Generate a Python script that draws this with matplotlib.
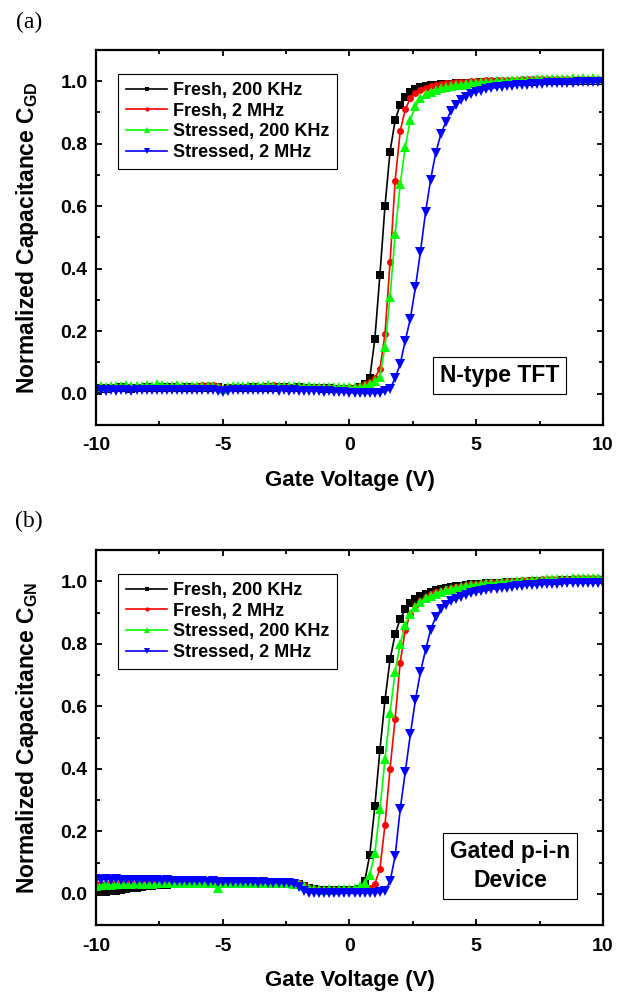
import numpy as np
import matplotlib
matplotlib.use('agg')
import matplotlib.pyplot as plt
from matplotlib.ticker import MultipleLocator

plt.rcParams['font.family'] = 'Liberation Sans'
plt.rcParams['font.weight'] = 'bold'
plt.rcParams['axes.unicode_minus'] = False
plt.rcParams['mathtext.fontset'] = 'custom'
plt.rcParams['mathtext.rm'] = 'Liberation Sans:bold'
plt.rcParams['mathtext.bf'] = 'Liberation Sans:bold'

# gate voltage sweep, -10 V .. 10 V in 0.2 V steps (101 points)
gate_v = np.linspace(-10, 10, 101)

# ---------------- (a) N-type TFT ----------------
a_fresh_200k = [
    0.015, 0.018, 0.016, 0.019, 0.017, 0.02, 0.018, 0.016, 0.019, 0.018,
    0.02, 0.017, 0.019, 0.021, 0.018, 0.02, 0.019, 0.017, 0.02, 0.019,
    0.018, 0.02, 0.019, 0.021, 0.02, 0.012, 0.018, 0.019, 0.017, 0.019,
    0.018, 0.02, 0.019, 0.018, 0.02, 0.019, 0.021, 0.02, 0.018, 0.019,
    0.02, 0.018, 0.019, 0.017, 0.018, 0.016, 0.017, 0.015, 0.014, 0.015,
    0.015, 0.016, 0.02, 0.03, 0.05, 0.175, 0.38, 0.60, 0.775, 0.875,
    0.925, 0.95, 0.965, 0.974, 0.98, 0.984, 0.987, 0.989, 0.99, 0.991,
    0.992, 0.993, 0.993, 0.994, 0.995, 0.995, 0.996, 0.996, 0.997, 0.997,
    0.997, 0.998, 0.998, 0.998, 0.999, 0.999, 0.999, 1.0, 1.0, 1.0,
    1.0, 1.0, 1.001, 1.0, 1.001, 1.0, 1.001, 1.0, 1.001, 1.0,
    1.0]
a_fresh_2m = [
    0.018, 0.02, 0.019, 0.021, 0.02, 0.022, 0.02, 0.021, 0.023, 0.022,
    0.021, 0.02, 0.022, 0.021, 0.02, 0.022, 0.023, 0.021, 0.022, 0.024,
    0.026, 0.027, 0.028, 0.027, 0.024, 0.014, 0.02, 0.021, 0.022, 0.021,
    0.022, 0.023, 0.022, 0.024, 0.026, 0.027, 0.026, 0.024, 0.022, 0.021,
    0.022, 0.021, 0.02, 0.021, 0.02, 0.019, 0.02, 0.019, 0.018, 0.019,
    0.02, 0.02, 0.024, 0.03, 0.038, 0.05, 0.08, 0.19, 0.42, 0.68,
    0.84, 0.91, 0.945, 0.962, 0.972, 0.979, 0.984, 0.988, 0.991, 0.993,
    0.995, 0.997, 0.998, 0.999, 1.0, 1.001, 1.002, 1.003, 1.003, 1.004,
    1.004, 1.005, 1.005, 1.005, 1.006, 1.006, 1.006, 1.006, 1.007, 1.007,
    1.007, 1.006, 1.007, 1.007, 1.006, 1.007, 1.006, 1.007, 1.006, 1.006,
    1.005]
a_stress_200k = [
    0.022, 0.025, 0.023, 0.026, 0.024, 0.025, 0.027, 0.024, 0.026, 0.025,
    0.027, 0.025, 0.03, 0.028, 0.026, 0.025, 0.027, 0.026, 0.025, 0.026,
    0.025, 0.026, 0.024, 0.025, 0.023, 0.016, 0.022, 0.024, 0.025, 0.026,
    0.025, 0.024, 0.026, 0.025, 0.027, 0.026, 0.025, 0.024, 0.025, 0.024,
    0.024, 0.023, 0.024, 0.022, 0.023, 0.022, 0.023, 0.021, 0.022, 0.021,
    0.02, 0.02, 0.021, 0.024, 0.03, 0.04, 0.055, 0.15, 0.31, 0.51,
    0.67, 0.79, 0.877, 0.92, 0.945, 0.958, 0.966, 0.972, 0.977, 0.981,
    0.984, 0.987, 0.989, 0.991, 0.993, 0.995, 0.997, 0.998, 0.999, 1.0,
    1.001, 1.002, 1.003, 1.003, 1.004, 1.005, 1.005, 1.006, 1.006, 1.007,
    1.007, 1.008, 1.007, 1.008, 1.009, 1.008, 1.009, 1.008, 1.009, 1.008,
    1.008]
a_stress_2m = [
    0.01, 0.012, 0.009, 0.011, 0.01, 0.012, 0.011, 0.01, 0.012, 0.011,
    0.012, 0.011, 0.013, 0.012, 0.011, 0.012, 0.013, 0.012, 0.011, 0.012,
    0.012, 0.013, 0.012, 0.011, 0.01, 0.005, 0.009, 0.011, 0.012, 0.011,
    0.012, 0.011, 0.012, 0.011, 0.012, 0.011, 0.01, 0.011, 0.01, 0.011,
    0.01, 0.009, 0.01, 0.008, 0.009, 0.007, 0.008, 0.006, 0.005, 0.004,
    0.003, 0.002, 0.002, 0.001, 0.001, 0.002, 0.003, 0.008, 0.015, 0.05,
    0.095, 0.17, 0.24, 0.34, 0.455, 0.58, 0.685, 0.77, 0.83, 0.87,
    0.905, 0.925, 0.94, 0.951, 0.959, 0.965, 0.97, 0.974, 0.977, 0.98,
    0.982, 0.984, 0.985, 0.987, 0.988, 0.989, 0.99, 0.991, 0.992, 0.993,
    0.993, 0.994, 0.994, 0.995, 0.995, 0.996, 0.996, 0.996, 0.997, 0.997,
    0.997]

# ---------------- (b) Gated p-i-n device ----------------
b_fresh_200k = [
    0.005, 0.006, 0.007, 0.008, 0.01, 0.012, 0.015, 0.018, 0.02, 0.022,
    0.024, 0.026, 0.027, 0.028, 0.029, 0.03, 0.03, 0.031, 0.03, 0.031,
    0.032, 0.031, 0.032, 0.033, 0.032, 0.033, 0.032, 0.033, 0.034, 0.033,
    0.033, 0.034, 0.033, 0.034, 0.035, 0.034, 0.033, 0.034, 0.033, 0.032,
    0.03, 0.025, 0.018, 0.014, 0.013, 0.012, 0.012, 0.013, 0.012, 0.012,
    0.012, 0.013, 0.016, 0.04, 0.125, 0.28, 0.46, 0.62, 0.75, 0.83,
    0.88, 0.91, 0.93, 0.943, 0.953, 0.96, 0.966, 0.971, 0.975, 0.979,
    0.982, 0.984, 0.986, 0.988, 0.99, 0.991, 0.992, 0.993, 0.994, 0.995,
    0.996, 0.997, 0.997, 0.998, 0.999, 0.999, 1.0, 1.0, 1.001, 1.001,
    1.002, 1.002, 1.003, 1.003, 1.004, 1.004, 1.004, 1.005, 1.005, 1.005,
    1.005]
b_fresh_2m = [
    0.03, 0.032, 0.031, 0.033, 0.032, 0.034, 0.033, 0.035, 0.034, 0.036,
    0.035, 0.036, 0.037, 0.036, 0.037, 0.038, 0.037, 0.038, 0.037, 0.039,
    0.038, 0.039, 0.04, 0.039, 0.041, 0.042, 0.04, 0.039, 0.04, 0.039,
    0.038, 0.039, 0.038, 0.039, 0.04, 0.041, 0.04, 0.042, 0.041, 0.038,
    0.035, 0.028, 0.02, 0.015, 0.013, 0.012, 0.012, 0.011, 0.012, 0.011,
    0.012, 0.012, 0.013, 0.015, 0.02, 0.032, 0.08, 0.22, 0.40, 0.56,
    0.74, 0.845, 0.895, 0.92, 0.937, 0.95, 0.958, 0.965, 0.97, 0.975,
    0.979, 0.982, 0.985, 0.988, 0.99, 0.992, 0.994, 0.995, 0.997, 0.998,
    0.999, 1.0, 1.001, 1.002, 1.003, 1.004, 1.004, 1.005, 1.006, 1.006,
    1.007, 1.007, 1.008, 1.008, 1.009, 1.009, 1.009, 1.01, 1.01, 1.01,
    1.01]
b_stress_200k = [
    0.025, 0.028, 0.03, 0.029, 0.031, 0.03, 0.032, 0.031, 0.033, 0.032,
    0.033, 0.032, 0.034, 0.033, 0.035, 0.034, 0.033, 0.035, 0.034, 0.035,
    0.034, 0.035, 0.036, 0.035, 0.02, 0.033, 0.036, 0.035, 0.034, 0.035,
    0.034, 0.035, 0.034, 0.036, 0.035, 0.034, 0.035, 0.034, 0.033, 0.032,
    0.03, 0.024, 0.018, 0.015, 0.014, 0.013, 0.014, 0.013, 0.014, 0.014,
    0.015, 0.018, 0.024, 0.034, 0.06, 0.13, 0.27, 0.43, 0.58, 0.71,
    0.80, 0.86, 0.895, 0.918, 0.933, 0.945, 0.953, 0.96, 0.966, 0.971,
    0.975, 0.979, 0.982, 0.985, 0.987, 0.989, 0.991, 0.993, 0.994, 0.996,
    0.997, 0.998, 0.999, 1.0, 1.001, 1.002, 1.003, 1.004, 1.005, 1.006,
    1.006, 1.007, 1.008, 1.008, 1.009, 1.009, 1.01, 1.01, 1.011, 1.011,
    1.011]
b_stress_2m = [
    0.046, 0.045, 0.047, 0.045, 0.046, 0.044, 0.045, 0.044, 0.045, 0.043,
    0.044, 0.043, 0.044, 0.042, 0.043, 0.042, 0.041, 0.042, 0.04, 0.041,
    0.04, 0.041, 0.039, 0.04, 0.038, 0.039, 0.038, 0.039, 0.037, 0.038,
    0.037, 0.038, 0.036, 0.037, 0.036, 0.035, 0.036, 0.035, 0.034, 0.03,
    0.022, 0.01, 0.004, 0.002, 0.001, 0.002, 0.001, 0.002, 0.001, 0.002,
    0.002, 0.001, 0.002, 0.002, 0.003, 0.003, 0.005, 0.01, 0.04, 0.12,
    0.27, 0.39, 0.51, 0.62, 0.71, 0.78, 0.845, 0.885, 0.91, 0.925,
    0.936, 0.944, 0.951, 0.956, 0.961, 0.965, 0.968, 0.971, 0.974, 0.976,
    0.978, 0.98, 0.982, 0.984, 0.985, 0.987, 0.988, 0.989, 0.99, 0.991,
    0.992, 0.992, 0.993, 0.994, 0.994, 0.995, 0.995, 0.996, 0.996, 0.996,
    0.996]

labels = ["Fresh, 200 KHz", "Fresh, 2 MHz", "Stressed, 200 KHz", "Stressed, 2 MHz"]
colors = ["#000000", "#ff0000", "#00ff00", "#0000ff"]
markers = ["s", "o", "^", "v"]
msizes = [5.5, 5.0, 6.5, 7.0]


def panel(ax, series, ysub, note, note_xy):
    for y, lab, c, m, ms in zip(series, labels, colors, markers, msizes):
        ax.plot(gate_v, y, color=c, marker=m, markersize=ms, lw=1.2,
                markeredgewidth=0, label=lab)
    ax.set_xlim(-10, 10)
    ax.set_ylim(-0.1, 1.1)
    ax.xaxis.set_major_locator(MultipleLocator(5))
    ax.xaxis.set_minor_locator(MultipleLocator(2.5))
    ax.yaxis.set_major_locator(MultipleLocator(0.2))
    ax.yaxis.set_minor_locator(MultipleLocator(0.1))
    ax.tick_params(which='both', direction='in', top=True, right=True, width=1.3)
    ax.tick_params(which='major', length=4.5, labelsize=14, pad=6)
    ax.tick_params(axis='x', which='major', pad=9)
    ax.tick_params(which='minor', length=3)
    for s in ax.spines.values():
        s.set_linewidth(1.6)
    ax.set_xlabel("Gate Voltage (V)", fontsize=16, fontweight='bold', labelpad=11)
    ax.set_ylabel(r"Normalized Capacitance C$_{\mathbf{" + ysub + "}}$",
                  fontsize=16.5, fontweight='bold', labelpad=14)
    leg = ax.legend(loc='upper left', bbox_to_anchor=(0.043, 0.936), borderaxespad=0,
                    fancybox=False, edgecolor='black', framealpha=1, fontsize=13,
                    handlelength=2.3, handletextpad=0.3, labelspacing=0.2,
                    borderpad=0.45, markerscale=0.6)
    leg.get_frame().set_linewidth(0.8)
    ax.text(note_xy[0], note_xy[1], note, transform=ax.transAxes, ha='center',
            va='center', fontsize=16.5, fontweight='bold', linespacing=1.35,
            bbox=dict(boxstyle='square,pad=0.3', fc='white', ec='black', lw=0.8))


fig = plt.figure(figsize=(6.27, 9.92), dpi=100)
ax1 = fig.add_axes([0.1531, 0.5716, 0.8086, 0.378])
ax2 = fig.add_axes([0.1531, 0.0675, 0.8086, 0.378])

panel(ax1, [a_fresh_200k, a_fresh_2m, a_stress_200k, a_stress_2m], "GD",
      "N-type TFT", (0.796, 0.131))
panel(ax2, [b_fresh_200k, b_fresh_2m, b_stress_200k, b_stress_2m], "GN",
      "Gated p-i-n\nDevice", (0.817, 0.157))

fig.text(29 / 627, 1 - 22 / 992, "(a)", family='Liberation Serif', fontweight='normal',
         fontsize=17, ha='center', va='center')
fig.text(29 / 627, 1 - 521 / 992, "(b)", family='Liberation Serif', fontweight='normal',
         fontsize=17, ha='center', va='center')

fig.savefig("out.png", dpi=100)
